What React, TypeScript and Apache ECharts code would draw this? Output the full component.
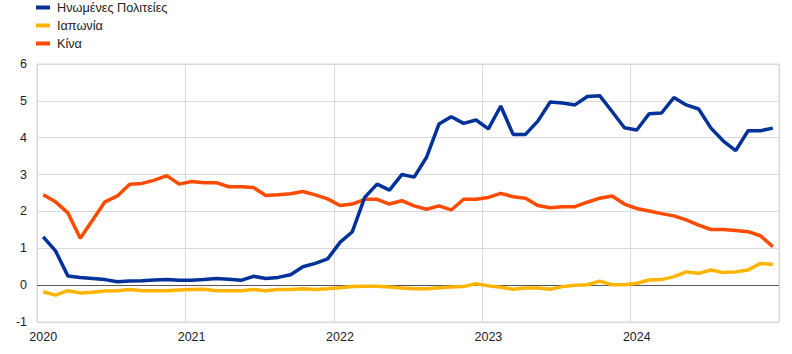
import React, { useEffect, useRef } from "react";
import * as echarts from "echarts";

const years = ["2020", "2021", "2022", "2023", "2024"];
const months = years.flatMap((y) =>
  Array.from({ length: 12 }, (_, m) => `${y}-${String(m + 1).padStart(2, "0")}`)
);

const seriesNames = ["Ηνωμένες Πολιτείες", "Ιαπωνία", "Κίνα"];
const seriesColors = ["#003299", "#FFB400", "#FF4B00"];

const usValues = [
  1.31, 0.93, 0.25, 0.21, 0.18, 0.15, 0.09, 0.11, 0.12, 0.14, 0.15, 0.13,
  0.13, 0.15, 0.18, 0.16, 0.13, 0.24, 0.18, 0.21, 0.28, 0.5, 0.59, 0.71,
  1.16, 1.45, 2.38, 2.74, 2.58, 3.0, 2.93, 3.47, 4.37, 4.57, 4.39, 4.48,
  4.24, 4.86, 4.09, 4.09, 4.45, 4.97, 4.94, 4.89, 5.12, 5.14, 4.71, 4.27,
  4.21, 4.65, 4.67, 5.09, 4.89, 4.78, 4.26, 3.91, 3.65, 4.19, 4.19, 4.26,
];

const japanValues = [
  -0.18, -0.27, -0.15, -0.21, -0.19, -0.16, -0.15, -0.12, -0.15, -0.15, -0.15, -0.13,
  -0.12, -0.11, -0.15, -0.15, -0.15, -0.12, -0.15, -0.12, -0.12, -0.1, -0.12, -0.1,
  -0.07, -0.04, -0.03, -0.03, -0.05, -0.08, -0.1, -0.1, -0.07, -0.05, -0.04, 0.04,
  -0.02, -0.06, -0.11, -0.08, -0.08, -0.11, -0.04, 0.0, 0.01, 0.11, 0.01, 0.01,
  0.05, 0.14, 0.15, 0.23, 0.36, 0.32, 0.41, 0.34, 0.36, 0.41, 0.59, 0.56,
];

const chinaValues = [
  2.45, 2.26, 1.96, 1.27, 1.77, 2.26, 2.42, 2.74, 2.76, 2.85, 2.97, 2.74,
  2.81, 2.78, 2.78, 2.67, 2.67, 2.65, 2.43, 2.45, 2.48, 2.54, 2.45, 2.34,
  2.16, 2.2, 2.33, 2.33, 2.2, 2.29, 2.15, 2.06, 2.15, 2.04, 2.33, 2.33,
  2.38, 2.49, 2.4, 2.36, 2.16, 2.1, 2.13, 2.13, 2.25, 2.36, 2.42, 2.2,
  2.08, 2.01, 1.94, 1.88, 1.77, 1.63, 1.51, 1.51, 1.48, 1.45, 1.34, 1.04,
];

const yMin = -1;
const yMax = 6;
const yInterval = 1;

export default function App() {
  const ref = useRef<HTMLDivElement>(null);

  useEffect(() => {
    if (!ref.current) return;
    document.body.style.margin = "0";
    const chart = echarts.init(ref.current, null, { renderer: "svg" });
    const font = "'Liberation Sans', Arial, sans-serif";
    const data = [usValues, japanValues, chinaValues];
    chart.setOption({
      animation: false,
      backgroundColor: "#ffffff",
      textStyle: { fontFamily: font },
      legend: {
        orient: "vertical",
        left: 36,
        top: 1,
        padding: 0,
        itemWidth: 14,
        itemHeight: 4,
        itemGap: 5,
        icon: "rect",
        data: seriesNames,
        textStyle: { fontSize: 12.7, color: "#222", fontFamily: font, padding: [0, 0, 0, 2] },
      },
      grid: {
        left: 37,
        right: 13,
        top: 64,
        bottom: 32,
        containLabel: false,
        show: true,
        borderColor: "#d9d9d9",
        borderWidth: 1,
      },
      xAxis: {
        type: "category",
        data: months,
        boundaryGap: true,
        axisLine: { show: false },
        axisTick: { show: false, interval: 11 },
        axisLabel: {
          interval: 11,
          formatter: (v: string) => v.slice(0, 4),
          fontSize: 12.5,
          color: "#222",
          margin: 8,
          fontFamily: font,
        },
        splitLine: {
          show: true,
          interval: 11,
          lineStyle: { color: "#d9d9d9", width: 1 },
        },
      },
      yAxis: {
        type: "value",
        min: yMin,
        max: yMax,
        interval: yInterval,
        axisLine: { show: false },
        axisTick: { show: false },
        axisLabel: { fontSize: 12.5, color: "#222", margin: 10, fontFamily: font },
        splitLine: { show: true, lineStyle: { color: "#d9d9d9", width: 1 } },
      },
      series: seriesNames.map((name, i) => ({
        name,
        type: "line",
        data: data[i],
        symbol: "none",
        lineStyle: { color: seriesColors[i], width: 3.5 },
        itemStyle: { color: seriesColors[i] },
        z: i === 0 ? 3 : 2,
        markLine:
          i === 1
            ? {
                silent: true,
                symbol: ["none", "none"],
                label: { show: false },
                lineStyle: { color: "#555555", width: 1, type: "solid" },
                data: [{ yAxis: 0 }],
                z: 1,
              }
            : undefined,
      })),
    });
    return () => chart.dispose();
  }, []);

  return <div ref={ref} style={{ width: 792, height: 354 }} />;
}
